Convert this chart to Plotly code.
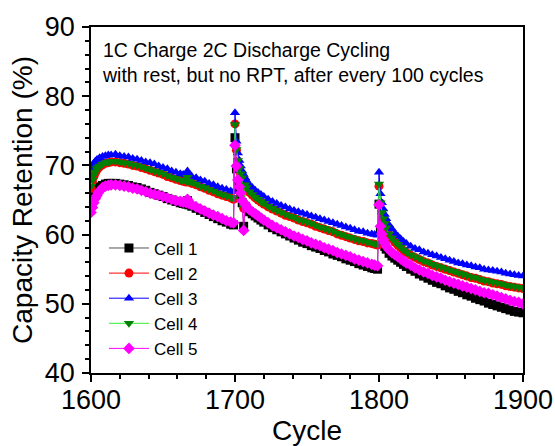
import plotly.graph_objects as go

cycles = [1600,1601,1602,1603,1604,1605,1606,1608,1610,1612,1614,1617,1620,1623,1626,1629,1632,1635,1638,1641,1644,1647,1650,1653,1656,1659,1662,1664,1666,1667,1668,1670,1673,1676,1679,1682,1685,1688,1691,1694,1697,1699,
          1700,1701,1702,1703,1704,1705,1706,1707,1708,1710,1712,1714,1716,1718,1720,1723,1726,1729,1732,1735,1738,1741,1744,1747,1750,1753,1756,1759,1762,1765,1768,1771,1774,1777,1780,1783,1786,1789,1792,1795,1797,1799,
          1800,1801,1802,1803,1804,1805,1807,1809,1811,1813,1815,1817,1819,1822,1825,1828,1831,1834,1837,1840,1843,1846,1849,1852,1855,1858,1861,1864,1867,1870,1873,1876,1879,1882,1885,1888,1891,1894,1897,1900]

cell1 = [64.2,64.9,65.5,66.0,66.4,66.7,66.9,67.1,67.3,67.4,67.4,67.4,67.3,67.2,67.1,66.9,66.8,66.6,66.4,66.1,65.9,65.7,65.5,65.2,65.0,64.8,64.6,64.5,64.4,64.9,64.3,64.1,63.8,63.5,63.2,62.9,62.6,62.3,62.0,61.8,61.5,61.4,
         74.0,69.5,67.6,66.6,65.7,64.6,61.2,64.1,63.8,63.3,63.0,62.7,62.4,62.1,61.8,61.4,61.0,60.7,60.4,60.1,59.8,59.5,59.2,58.9,58.7,58.4,58.2,58.0,57.7,57.5,57.2,57.0,56.8,56.5,56.3,56.1,55.8,55.6,55.4,55.2,55.1,55.0,
         64.4,60.6,59.6,58.9,58.3,57.9,57.3,56.9,56.6,56.3,56.0,55.7,55.4,55.0,54.7,54.3,54.0,53.7,53.4,53.1,52.9,52.6,52.3,52.1,51.8,51.6,51.3,51.1,50.8,50.6,50.4,50.1,49.9,49.7,49.5,49.3,49.1,48.9,48.8,48.7]

cell2 = [66.7,67.7,68.4,68.9,69.3,69.6,69.8,70.1,70.3,70.4,70.5,70.5,70.4,70.3,70.2,70.0,69.9,69.7,69.5,69.3,69.1,68.9,68.7,68.4,68.2,68.0,67.8,67.7,67.6,68.2,67.6,67.4,67.2,66.9,66.7,66.4,66.2,65.9,65.7,65.5,65.3,65.1,
         76.0,72.2,70.6,69.5,68.7,68.1,63.8,67.1,66.7,66.1,65.7,65.3,65.0,64.7,64.4,64.0,63.7,63.4,63.1,62.8,62.6,62.4,62.1,61.9,61.7,61.5,61.2,61.0,60.8,60.6,60.4,60.1,59.9,59.7,59.5,59.3,59.1,59.0,58.8,58.7,58.6,58.5,
         67.0,64.5,63.1,62.2,61.5,60.9,60.0,59.4,58.9,58.5,58.1,57.7,57.4,57.0,56.7,56.4,56.1,55.9,55.6,55.4,55.2,55.0,54.8,54.6,54.4,54.2,54.0,53.8,53.7,53.5,53.3,53.2,53.0,52.9,52.8,52.6,52.5,52.4,52.3,52.2]

cell3 = [69.6,70.0,70.3,70.6,70.8,70.9,71.1,71.3,71.4,71.5,71.5,71.6,71.4,71.3,71.2,71.0,70.9,70.7,70.5,70.4,70.2,69.9,69.7,69.5,69.2,69.0,68.8,68.7,68.6,69.2,68.7,68.4,68.2,67.9,67.7,67.4,67.2,66.9,66.7,66.5,66.3,66.2,
         77.6,73.5,71.8,70.7,69.9,69.2,68.7,68.2,67.8,67.2,66.8,66.4,66.1,65.8,65.5,65.1,64.8,64.5,64.2,64.0,63.7,63.5,63.3,63.1,62.9,62.7,62.5,62.3,62.1,61.9,61.7,61.5,61.3,61.1,60.9,60.7,60.5,60.4,60.2,60.1,60.0,59.9,
         69.0,65.9,64.6,63.7,62.9,62.3,61.4,60.8,60.2,59.8,59.4,59.0,58.7,58.3,58.0,57.8,57.5,57.3,57.1,56.9,56.7,56.5,56.3,56.1,55.9,55.8,55.6,55.5,55.3,55.2,55.0,54.9,54.8,54.7,54.6,54.4,54.3,54.2,54.1,54.0]

cell4 = [67.0,67.9,68.6,69.1,69.5,69.7,69.9,70.2,70.4,70.5,70.6,70.6,70.5,70.4,70.3,70.1,70.0,69.8,69.6,69.4,69.2,69.0,68.8,68.5,68.3,68.1,67.9,67.8,67.7,68.3,67.7,67.5,67.3,67.0,66.8,66.5,66.3,66.0,65.8,65.6,65.4,65.2,
         75.9,72.3,70.7,69.6,68.8,68.2,64.0,67.2,66.8,66.2,65.8,65.4,65.1,64.8,64.5,64.1,63.8,63.5,63.2,62.9,62.7,62.5,62.2,62.0,61.8,61.6,61.3,61.1,60.9,60.7,60.5,60.2,60.0,59.8,59.6,59.4,59.2,59.1,58.9,58.8,58.7,58.6,
         67.3,64.6,63.2,62.3,61.6,61.0,60.1,59.5,59.0,58.6,58.2,57.8,57.5,57.1,56.8,56.5,56.2,56.0,55.7,55.5,55.3,55.1,54.9,54.7,54.5,54.3,54.1,53.9,53.8,53.6,53.4,53.3,53.1,53.0,52.9,52.7,52.6,52.5,52.4,52.3]

cell5 = [63.2,63.9,64.6,65.2,65.6,66.0,66.3,66.8,67.0,67.1,67.2,67.2,67.1,67.0,66.9,66.7,66.6,66.4,66.2,66.0,65.8,65.7,65.5,65.3,65.1,64.9,64.8,64.7,64.6,65.1,64.5,64.3,64.0,63.7,63.4,63.1,62.8,62.6,62.3,62.0,61.8,61.7,
         72.9,69.9,67.9,66.9,66.0,64.9,60.6,64.4,64.1,63.6,63.3,63.0,62.7,62.4,62.1,61.7,61.3,61.0,60.7,60.4,60.1,59.8,59.6,59.3,59.1,58.8,58.6,58.4,58.1,57.9,57.7,57.4,57.2,57.0,56.8,56.5,56.3,56.1,55.9,55.7,55.6,55.5,
         64.3,61.2,60.1,59.3,58.8,58.3,57.8,57.4,57.1,56.8,56.5,56.2,55.9,55.6,55.2,54.9,54.6,54.4,54.1,53.9,53.7,53.4,53.2,53.0,52.8,52.6,52.4,52.2,52.0,51.8,51.6,51.5,51.3,51.1,50.9,50.7,50.5,50.3,50.2,50.0]

names = ["Cell 1", "Cell 2", "Cell 3", "Cell 4", "Cell 5"]
series = [cell1, cell2, cell3, cell4, cell5]
marker_colors = ["#000000", "#ff0000", "#0000ff", "#008000", "#ff00ff"]
line_colors = ["#555555", "#ff0000", "#0000ff", "#33ee33", "#ff00ff"]
symbols = ["square", "circle", "triangle-up", "triangle-down", "diamond"]

FONT = "Liberation Sans, Arial, sans-serif"

fig = go.Figure()
for name, vals, mc, lc, sym in zip(names, series, marker_colors, line_colors, symbols):
    fig.add_trace(go.Scatter(
        x=cycles, y=vals, name=name, mode="lines+markers",
        line=dict(color=lc, width=1),
        marker=dict(symbol=sym, size=9, color=mc, line=dict(width=0)),
    ))

axis_common = dict(
    showgrid=False, zeroline=False, showline=True, linecolor="black", linewidth=1.5,
    mirror=True, ticks="outside", ticklen=7, tickwidth=1.5, tickcolor="black",
    tickfont=dict(family=FONT, size=27, color="black"), automargin=False,
)

fig.update_layout(
    width=555, height=446,
    margin=dict(l=91, r=32, t=27, b=73),
    paper_bgcolor="white", plot_bgcolor="white",
    font=dict(family=FONT, color="black"),
    showlegend=True,
    legend=dict(x=0.03, y=0.412, xanchor="left", yanchor="top",
                bgcolor="rgba(0,0,0,0)", font=dict(family=FONT, size=17, color="black"),
                itemwidth=40, tracegroupgap=0),
    xaxis=dict(range=[1600, 1900], dtick=100, tick0=1600, ticklabelstandoff=-5,
               minor=dict(dtick=20, ticks="outside", ticklen=4, tickwidth=1.5, tickcolor="black"),
               title=dict(text="Cycle", font=dict(family=FONT, size=28, color="black")),
               **axis_common),
    yaxis=dict(range=[40, 90], dtick=10, tick0=40, ticklabelstandoff=2,
               minor=dict(dtick=2, ticks="outside", ticklen=4, tickwidth=1.5, tickcolor="black"),
               title=dict(text="Capacity Retention (%)", font=dict(family=FONT, size=28, color="black"), standoff=4),
               **axis_common),
    annotations=[dict(
        text="1C Charge 2C Discharge Cycling<br>with rest, but no RPT, after every 100 cycles",
        xref="paper", yref="paper", x=0.02, y=0.97, xanchor="left", yanchor="top",
        align="left", showarrow=False,
        font=dict(family=FONT, size=19.5, color="black"),
    )],
)

fig.write_html("out.html")
